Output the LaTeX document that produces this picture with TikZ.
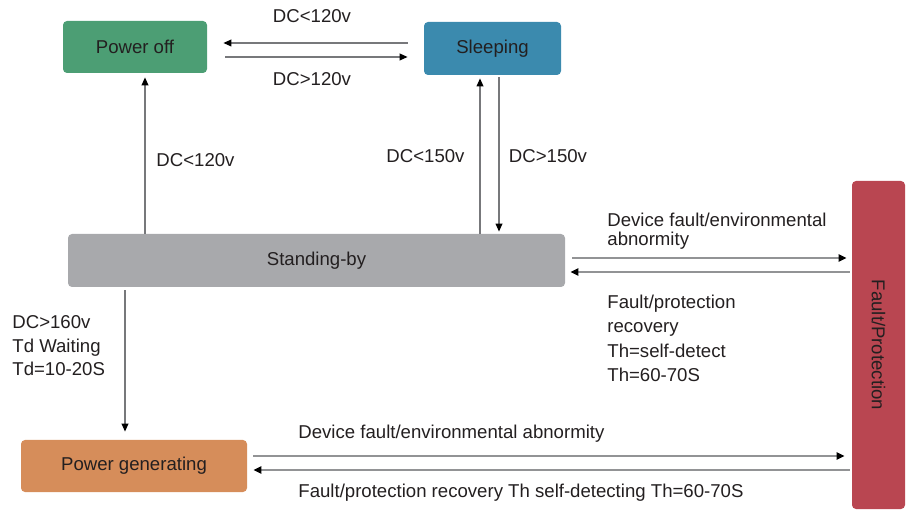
\documentclass[tikz,border=0pt]{standalone}
\usepackage{fontspec}
\setmainfont{Liberation Sans}
\usetikzlibrary{arrows.meta}
\definecolor{offgreen}{HTML}{4C9E74}
\definecolor{sleepblue}{HTML}{3B8AAE}
\definecolor{standgray}{HTML}{A8A9AC}
\definecolor{genorange}{HTML}{D68D5A}
\definecolor{faultred}{HTML}{B94651}
\definecolor{ink}{HTML}{231F20}
\definecolor{wire}{HTML}{77787B}
\begin{document}
\begin{tikzpicture}[x=.5pt, y=-.5pt, font=\fontsize{9.3}{11}\selectfont, text=ink,
	state/.style={rounded corners=2pt, inner sep=0pt},
	lbl/.style={inner sep=0pt},
	arr/.style={draw=wire, line width=.6pt, -{Triangle[length=4pt, width=3.4pt, color=black]}},
	warr/.style={draw=wire!80, line width=1pt, -{Triangle[length=4pt, width=3.6pt, color=black]}}]
	\useasboundingbox (0,0) rectangle (909,512);
	\node [state, fill=offgreen, minimum width=72pt, minimum height=26pt] (off) at (135,47) {Power off};
	\node [state, fill=sleepblue, minimum width=68.5pt, minimum height=26.5pt] (sleep) at (492.5,48.5) {Sleeping};
	\node [state, fill=standgray, minimum width=248.5pt, minimum height=26.5pt] (standby) at (316.5,260.5) {Standing-by};
	\node [state, fill=genorange, minimum width=113pt, minimum height=26pt] (gen) at (134,466) {Power generating};
	\node [state, fill=faultred, rotate=-90, minimum width=164pt, minimum height=26.5pt] (fault) at (878.5,345) {Fault/Protection};
	% top pair
	\draw [arr, shorten <=8pt, shorten >=8pt] ([yshift=2.75pt]sleep.west) -- ([yshift=2.75pt]sleep.west -| off.east);
	\draw [arr, shorten <=9pt, shorten >=8pt] ([yshift=-4.25pt]sleep.west -| off.east) -- ([yshift=-4.25pt]sleep.west);
	\node [lbl, anchor=base] (dcoffa) at (312,23) {DC<120v};
	\node [lbl, anchor=base] (dcoffb) at (312,86) {DC>120v};
	% up and down
	\draw [arr, shorten >=2pt] ([xshift=5pt]off.south |- standby.north) -- ([xshift=5pt]off.south);
	\draw [arr, shorten >=1.5pt] ([xshift=-6.25pt]sleep.south |- standby.north) -- ([xshift=-6.25pt]sleep.south);
	\draw [arr, shorten <=1pt, shorten >=1pt] ([xshift=3.25pt]sleep.south) -- ([xshift=3.25pt]sleep.south |- standby.north);
	\node [lbl, anchor=base] (dcstoff) at (195.5,167) {DC<120v};
	\node [lbl, anchor=base] (dcstsl) at (425.5,163) {DC<150v};
	\node [lbl, anchor=base] (dcslst) at (548,163) {DC>150v};
	\draw [arr, shorten <=1.5pt, shorten >=4pt] ([xshift=-4.5pt]gen.north |- standby.south) -- ([xshift=-4.5pt]gen.north);
	\node [lbl, anchor=north west, align=left, font=\fontsize{9.3}{11.75}\selectfont] (dcgen) at (12,315.5) {DC>160v\\Td Waiting\\Td=10-20S};
	% fault links
	\draw [warr, shorten <=3.5pt, shorten >=2.5pt] ([yshift=1.25pt]standby.east) -- ([yshift=1.25pt]standby.east -| fault.south);
	\draw [warr, shorten <=1pt, shorten >=2.5pt] ([yshift=-5.75pt]standby.east -| fault.south) -- ([yshift=-5.75pt]standby.east);
	\node [lbl, anchor=north west, align=left, font=\fontsize{9.3}{9.5}\selectfont] (stfault) at (607,212.5) {Device fault/environmental\\abnormity};
	\node [lbl, anchor=north west, align=left, font=\fontsize{9.3}{12.25}\selectfont] (faultst) at (607,294.5) {Fault/protection\\recovery\\Th=self-detect\\Th=60-70S};
	\draw [warr, shorten <=3pt, shorten >=3.5pt] ([yshift=5pt]gen.east) -- ([yshift=5pt]gen.east -| fault.south);
	\draw [warr, shorten <=1pt, shorten >=3pt] ([yshift=-2pt]gen.east -| fault.south) -- ([yshift=-2pt]gen.east);
	\node [lbl, anchor=base west] (genfault) at (298,438) {Device fault/environmental abnormity};
	\node [lbl, anchor=base west] (faultgen) at (298,497) {Fault/protection recovery Th self-detecting Th=60-70S};
\end{tikzpicture}
\end{document}
